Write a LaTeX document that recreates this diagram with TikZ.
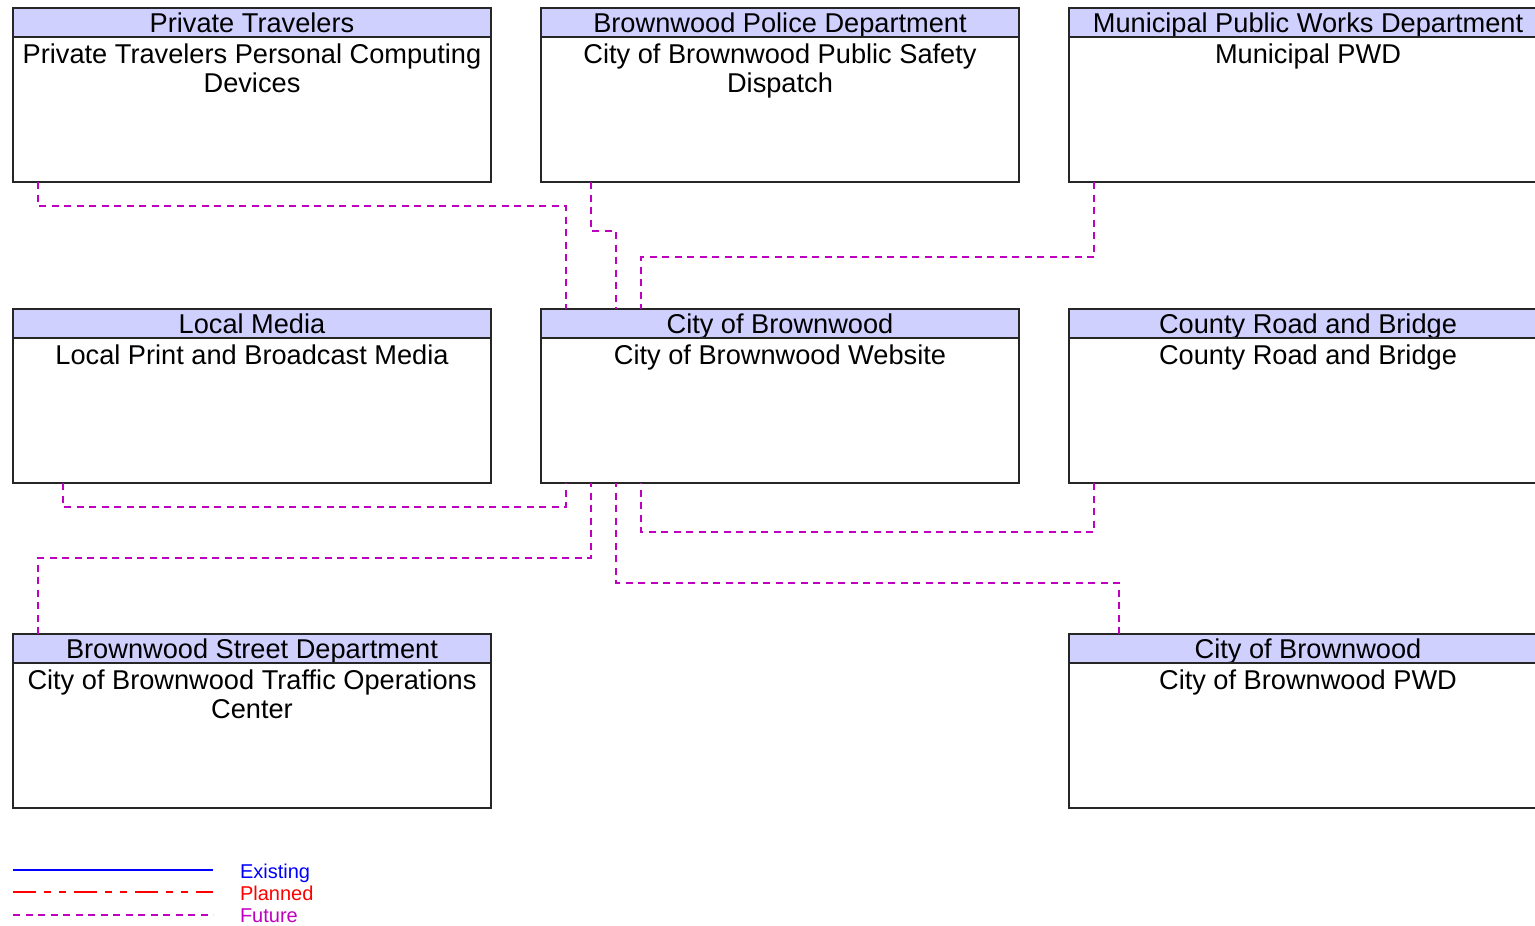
\documentclass[tikz,border=0pt]{standalone}
\usepackage{fontspec}
\setmainfont{Liberation Sans}
\usepackage{xcolor}
\usetikzlibrary{positioning}
\definecolor{hdrblue}{RGB}{208,208,255}
\definecolor{futurec}{RGB}{192,0,192}

\begin{document}
\begin{tikzpicture}[
    x=1pt, y=-1pt,
    every node/.style={font=\fontsize{27.2}{29}\selectfont, inner sep=0pt, outer sep=0pt},
    hdr/.style={draw=black!85, line width=1.3pt, fill=hdrblue, minimum width=478pt, minimum height=29pt, text height=19.5pt, text depth=0pt, anchor=north west},
    body/.style={draw=black!85, line width=1.3pt, minimum width=478pt, minimum height=145pt, below=0pt of #1},
    txt/.style={align=center, below=6.5pt of #1},
    legtxt/.style={font=\fontsize{20}{22}\selectfont, anchor=base west},
    existing/.style={draw=blue, line width=1.7pt},
    planned/.style={draw=red, line width=1.4pt, dash pattern=on 23pt off 8pt on 7pt off 8pt on 7pt off 8pt},
    future/.style={draw=futurec, line width=1.3pt, dash pattern=on 7pt off 5.5pt}
]
\useasboundingbox (0,0) rectangle (1535,926);

\node[hdr] (pt) at (13,8) {Private Travelers};
\node[body=pt] (ptb) {};
\node[txt=pt] (ptt) {Private Travelers Personal Computing\\Devices};

\node[hdr] (pd) at (541,8) {Brownwood Police Department};
\node[body=pd] (pdb) {};
\node[txt=pd] (pdt) {City of Brownwood Public Safety\\Dispatch};

\node[hdr] (mp) at (1069,8) {Municipal Public Works Department};
\node[body=mp] (mpb) {};
\node[txt=mp] (mpt) {Municipal PWD};

\node[hdr] (lm) at (13,309) {Local Media};
\node[body=lm] (lmb) {};
\node[txt=lm] (lmt) {Local Print and Broadcast Media};

\node[hdr] (cb) at (541,309) {City of Brownwood};
\node[body=cb] (cbb) {};
\node[txt=cb] (cbt) {City of Brownwood Website};

\node[hdr] (cr) at (1069,309) {County Road and Bridge};
\node[body=cr] (crb) {};
\node[txt=cr] (crt) {County Road and Bridge};

\node[hdr] (sd) at (13,634) {Brownwood Street Department};
\node[body=sd] (sdb) {};
\node[txt=sd] (sdt) {City of Brownwood Traffic Operations\\Center};

\node[hdr] (cp) at (1069,634) {City of Brownwood};
\node[body=cp] (cpb) {};
\node[txt=cp] (cpt) {City of Brownwood PWD};

\draw[future] ([xshift=25pt]ptb.south west) -- ++(0,24) -| ([xshift=25pt]cb.north west);
\draw[future] ([xshift=50pt]pdb.south west) -- ++(0,49) -| ([xshift=75pt]cb.north west);
\draw[future] ([xshift=25pt]mpb.south west) -- ++(0,75) -| ([xshift=100pt]cb.north west);
\draw[future] ([xshift=50pt]lmb.south west) -- ++(0,24) -| ([xshift=25pt]cbb.south west);
\draw[future] ([xshift=25pt]sd.north west) -- ++(0,-76) -| ([xshift=50pt]cbb.south west);
\draw[future] ([xshift=25pt]crb.south west) -- ++(0,49) -| ([xshift=100pt]cbb.south west);
\draw[future] ([xshift=50pt]cp.north west) -- ++(0,-51) -| ([xshift=75pt]cbb.south west);

\coordinate (lgex) at (13,870);
\coordinate (lgpl) at (13,892);
\coordinate (lgfu) at (13,915);
\draw[existing] (lgex) -- ++(200,0);
\draw[planned] (lgpl) -- ++(200,0);
\draw[future] (lgfu) -- ++(200,0);
\node[legtxt, text=blue] (lex) at (240,878) {Existing};
\node[legtxt, text=red] (lpl) at (240,900.5) {Planned};
\node[legtxt, text=futurec] (lfu) at (240,922.5) {Future};
\end{tikzpicture}
\end{document}
